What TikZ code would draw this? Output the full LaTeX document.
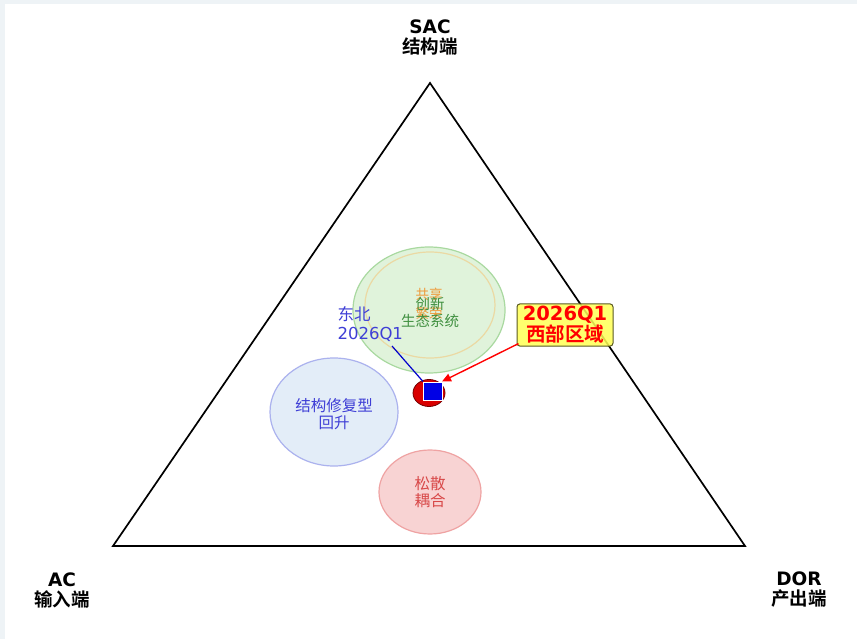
\documentclass[tikz,border=0pt]{standalone}
\usepackage{fontspec}
\setmainfont{DejaVu Sans}
\newfontfamily\cjk{Noto Sans CJK SC}[BoldFont={Noto Sans CJK SC Bold}]
\usetikzlibrary{arrows.meta,shapes.geometric}
\definecolor{zonegreen}{HTML}{D6F0CF}
\definecolor{zonegreenline}{HTML}{A9D9A0}
\definecolor{zoneorange}{HTML}{EBD9A3}
\definecolor{zoneblue}{HTML}{E3EDF8}
\definecolor{zoneblueline}{HTML}{ABB2EE}
\definecolor{zonered}{HTML}{F8D3D3}
\definecolor{zoneredline}{HTML}{EFA3A3}
\definecolor{txtgreen}{HTML}{3F8F3F}
\definecolor{txtorange}{HTML}{EE9A3A}
\definecolor{txtblue}{HTML}{3F3FD6}
\definecolor{txtred}{HTML}{D84848}
\definecolor{tagyellow}{HTML}{FFFF55}
\definecolor{tagline}{HTML}{5A5A20}
\definecolor{frame}{HTML}{EEF3F6}
\tikzset{
  corner/.style={align=center,font=\fontsize{18.5}{20}\selectfont},
  zonetext/.style={align=center,font=\cjk\fontsize{15.5}{17}\selectfont},
}
\begin{document}
\begin{tikzpicture}[x=1pt,y=-1pt]
  \useasboundingbox (0,0) rectangle (857,639);
  \fill[frame] (0,0) rectangle (857,639);
  \fill[white] (5,4) rectangle (857,639);
  % triangle
  \draw[line width=1.7pt,line join=miter] (430,83) -- (113,546) -- (745,546) -- cycle;
  \node[corner] (sac) at (430,37) {\textbf{SAC}\\{\cjk\bfseries 结构端}};
  \node[corner] (ac) at (62,590) {\textbf{AC}\\{\cjk\bfseries 输入端}};
  \node[corner] (dor) at (799,590) {\textbf{DOR}\\{\cjk\bfseries 产出端}};
  % zones
  \draw[zonegreenline,fill=zonegreen,fill opacity=0.75,line width=1.2pt] (429,310) ellipse (76 and 63);
  \draw[zoneorange,line width=1.2pt] (430,305) ellipse (65 and 53);
  \draw[zoneblueline,fill=zoneblue,line width=1.2pt] (334,412) ellipse (64 and 54);
  \draw[zoneredline,fill=zonered,line width=1.2pt] (430,492) ellipse (51 and 42);
  \node[zonetext,text=txtorange,font=\cjk\fontsize{13.5}{19}\selectfont] (share) at (429,304) {共享\\繁荣};
  \node[zonetext,text=txtgreen,font=\cjk\fontsize{14.5}{17}\selectfont] (innov) at (430,312) {创新\\生态系统};
  \node[zonetext,text=txtblue] (repair) at (334,414) {结构修复型\\回升};
  \node[zonetext,text=txtred] (loose) at (430,492) {松散\\耦合};
  % points
  \draw[fill=red!85!black,draw=red!45!black,line width=0.8pt] (429,393) ellipse (16 and 13.5);
  \node[fill=blue!90!black,draw=white,line width=0.5pt,minimum size=18.5pt,inner sep=0pt] (ne) at (432.5,391) {};
  \node[align=left,text=txtblue,font=\fontsize{16.5}{19}\selectfont,anchor=west] (nelabel) at (334,324) {{\cjk 东北}\\2026Q1};
  \node[draw=tagline,fill=tagyellow,fill opacity=0.85,text opacity=1,rounded corners=3pt,line width=1pt,
        align=center,text=red,font=\bfseries\fontsize{19.5}{21}\selectfont,inner sep=2.5pt,minimum width=96pt] (westlabel) at (565,325) {2026Q1\\{\cjk\bfseries 西部区域}};
  \draw[blue!80!black,line width=1.2pt] (392,346) -- (ne.north west);
  \draw[red,line width=1.4pt,-{Triangle[length=9pt,width=8pt]}] (westlabel.south west) ++(2,-3) -- (ne.north east);
\end{tikzpicture}
\end{document}
